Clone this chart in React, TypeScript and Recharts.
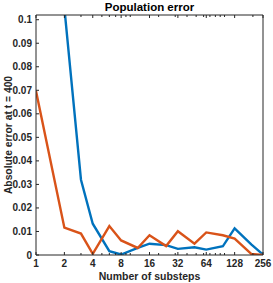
import React from 'react';
import { LineChart, Line, XAxis, YAxis } from 'recharts';

// substeps sampled on the log2 axis
const substeps = [1, 2, 3, 4, 6, 8, 12, 16, 24, 32, 48, 64, 96, 128, 192, 256];
const blueError = [0.3, 0.105, 0.032, 0.0133, 0.0016, 0.0002, 0.003, 0.0048, 0.0042, 0.0026, 0.0033, 0.0023, 0.0037, 0.0113, 0.0045, 0.0002];
const orangeError = [0.0697, 0.0116, 0.0091, 0.0005, 0.0123, 0.0062, 0.003, 0.0084, 0.0038, 0.0101, 0.0048, 0.0096, 0.0084, 0.007, 0.0005, 0];

const majorTicks = [1, 2, 4, 8, 16, 32, 64, 128, 256];
const minorTicks = [3, 5, 6, 7, 9, 10, 20, 30, 40, 50, 60, 70, 80, 90, 100, 200];
const yTicks = [0, 0.01, 0.02, 0.03, 0.04, 0.05, 0.06, 0.07, 0.08, 0.09, 0.1];

const data = substeps.map((n, i) => ({ n, blue: blueError[i], orange: orangeError[i] }));
const allXTicks = [...majorTicks, ...minorTicks].sort((a, b) => a - b);

const AXIS = '#262626';
const FONT = '"Liberation Sans", Arial, sans-serif';

const XTick = (props: any) => {
  const { x, y, payload, top } = props;
  const major = majorTicks.includes(payload.value);
  const len = major ? 3 : 2;
  const dir = top ? 1 : -1;
  return (
    <g>
      <line x1={x} x2={x} y1={y} y2={y + dir * len} stroke={AXIS} strokeWidth={1} />
      {!top && major && (
        <text x={x} y={y + 5} dy="0.71em" textAnchor="middle" fontSize={10} fontWeight="bold" fill={AXIS}>
          {payload.value}
        </text>
      )}
    </g>
  );
};

export default function App() {
  return (
    <div style={{ position: 'absolute', left: 0, top: 0, width: 273, height: 283, background: '#fff', fontFamily: FONT }}>
      <div
        style={{
          position: 'absolute', left: 36, width: 227, top: 1, textAlign: 'center',
          fontSize: 11.5, fontWeight: 'bold', color: '#000', lineHeight: '13px'
        }}
      >
        Population error
      </div>
      <LineChart width={273} height={283} data={data} margin={{ top: 14, right: 9, bottom: 0, left: 0 }}>
        <XAxis
          dataKey="n"
          type="number"
          scale="log"
          domain={[1, 256]}
          allowDataOverflow
          ticks={allXTicks}
          interval={0}
          height={28}
          tickSize={0}
          tickMargin={0}
          tickLine={false}
          stroke={AXIS}
          tick={<XTick />}
          label={{ value: 'Number of substeps', position: 'insideBottom', offset: 3, fontSize: 10.5, fontWeight: 'bold', fill: AXIS }}
        />
        <XAxis
          xAxisId="top"
          orientation="top"
          dataKey="n"
          type="number"
          scale="log"
          domain={[1, 256]}
          allowDataOverflow
          ticks={allXTicks}
          interval={0}
          height={1}
          tickSize={0}
          tickMargin={0}
          tickLine={false}
          stroke={AXIS}
          tick={<XTick top />}
        />
        <YAxis
          type="number"
          domain={[0, 0.102]}
          allowDataOverflow
          ticks={yTicks}
          interval={0}
          width={36}
          tickSize={-3}
          tickMargin={7}
          stroke={AXIS}
          tick={{ fontSize: 10, fontWeight: 'bold', fill: AXIS }}
          label={{ value: 'Absolute error at t = 400', angle: -90, position: 'insideLeft', offset: 8, fontSize: 10.3, fontWeight: 'bold', fill: AXIS, style: { textAnchor: 'middle' } }}
        />
        <YAxis
          yAxisId="right"
          orientation="right"
          type="number"
          domain={[0, 0.102]}
          allowDataOverflow
          ticks={yTicks}
          interval={0}
          width={1}
          tickSize={-3}
          tickMargin={0}
          tick={false}
          stroke={AXIS}
        />
        <Line dataKey="blue" stroke="#0072BD" strokeWidth={2.4} dot={false} isAnimationActive={false} />
        <Line
          dataKey="orange"
          xAxisId="top"
          yAxisId="right"
          stroke="#D95319"
          strokeWidth={2.4}
          dot={false}
          isAnimationActive={false}
        />
      </LineChart>
    </div>
  );
}
